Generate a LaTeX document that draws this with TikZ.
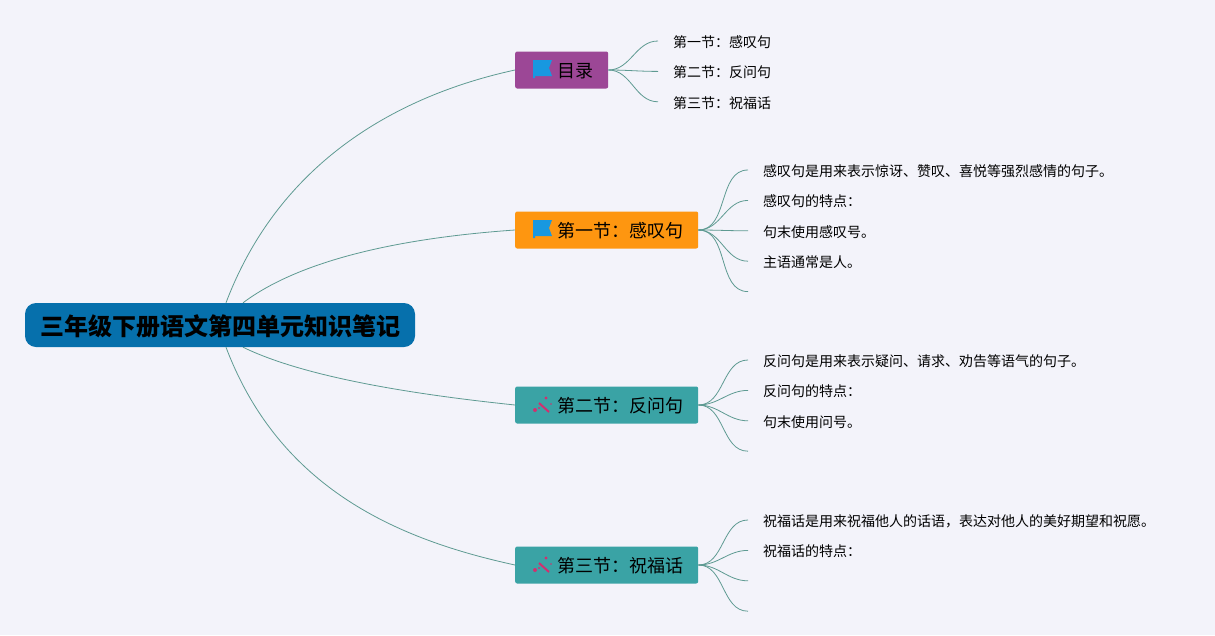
\documentclass[tikz,border=0pt]{standalone}
\usepackage{fontspec}
\usepackage{xcolor}
\usetikzlibrary{positioning}
\setmainfont{Noto Sans CJK SC}
\definecolor{bgcolor}{RGB}{243,243,250}
\definecolor{rootcolor}{RGB}{6,112,172}
\definecolor{toccolor}{RGB}{156,71,150}
\definecolor{orangecolor}{RGB}{254,150,16}
\definecolor{tealcolor}{RGB}{58,163,165}
\definecolor{linecolor}{RGB}{94,154,146}
\definecolor{flagcolor}{RGB}{24,152,224}
\definecolor{wandcolor}{RGB}{208,48,112}

\begin{document}
\begin{tikzpicture}[x=1pt,y=-1pt,node distance=0pt,
root/.style={fill=rootcolor,rounded corners=11pt,minimum height=44pt,inner xsep=15pt,inner ysep=0pt,text height=21pt,text depth=0pt,font=\fontsize{24}{28}\selectfont\bfseries},
branch/.style={rounded corners=2pt,minimum height=37pt,inner xsep=15pt,inner ysep=0pt,anchor=west,text height=15.6pt,text depth=0pt,font=\fontsize{18}{22}\selectfont},
leaf/.style={minimum height=30pt,minimum width=30pt,inner xsep=15pt,inner ysep=0pt,text height=12.6pt,text depth=0pt,font=\fontsize{14}{16}\selectfont},
main/.style={draw=linecolor,line width=0.8pt},
twig/.style={draw=linecolor,line width=0.8pt,out=0,in=180},
flag/.pic={\fill[flagcolor] (0,0)--(19,0)--(16,8)--(19,16)--(2,16)--(2,18)--(0,18)--cycle;},
wand/.pic={\draw[wandcolor,line width=2pt] (6,10)--(16,19);
\fill[wandcolor] (2,17) circle (2pt);
\fill[wandcolor] (13,5) circle (1.7pt);
\fill[wandcolor] (18,11) circle (0.8pt);
\fill[wandcolor] (6,15) circle (1.2pt);}]
\fill[bgcolor] (0,0) rectangle (1215,635);
% centre
\node[root] (r) at (220,325) {三年级下册语文第四单元知识笔记};
% branches
\node[branch,fill=toccolor] (toc) at (515,70) {\hspace*{27pt}目录};
\node[branch,fill=orangecolor] (s1) at (515,230) {\hspace*{27pt}第一节：感叹句};
\node[branch,fill=tealcolor] (s2) at (515,405) {\hspace*{27pt}第二节：反问句};
\node[branch,fill=tealcolor] (s3) at (515,565) {\hspace*{27pt}第三节：祝福话};
\pic at (533,60) {flag};
\pic at (533,220) {flag};
\pic at (533,393) {wand};
\pic at (533,553) {wand};
\draw[main] ([xshift=6pt]r.north) .. controls (280,160) and (400,95) .. (toc.west);
\draw[main] ([xshift=23pt]r.north) .. controls (300,260) and (400,238) .. (s1.west);
\draw[main] ([xshift=23pt]r.south) .. controls (300,375) and (400,393) .. (s2.west);
\draw[main] ([xshift=6pt]r.south) .. controls (280,490) and (400,540) .. (s3.west);
% leaves
\node[leaf,anchor=west] (t1) at (658,41) {第一节：感叹句};
\node[leaf,below right=0pt of t1.south west] (t2) {第二节：反问句};
\node[leaf,below right=0pt of t2.south west] (t3) {第三节：祝福话};
\node[leaf,anchor=west] (a1) at (748,170) {感叹句是用来表示惊讶、赞叹、喜悦等强烈感情的句子。};
\node[leaf,below right=0pt of a1.south west] (a2) {感叹句的特点：};
\node[leaf,below right=0pt of a2.south west] (a3) {句末使用感叹号。};
\node[leaf,below right=0pt of a3.south west] (a4) {主语通常是人。};
\node[leaf,below right=0pt of a4.south west] (a5) {};
\node[leaf,anchor=west] (b1) at (748,360) {反问句是用来表示疑问、请求、劝告等语气的句子。};
\node[leaf,below right=0pt of b1.south west] (b2) {反问句的特点：};
\node[leaf,below right=0pt of b2.south west] (b3) {句末使用问号。};
\node[leaf,below right=0pt of b3.south west] (b4) {};
\node[leaf,anchor=west] (c1) at (748,520) {祝福话是用来祝福他人的话语，表达对他人的美好期望和祝愿。};
\node[leaf,below right=0pt of c1.south west] (c2) {祝福话的特点：};
\node[leaf,below right=0pt of c2.south west] (c3) {};
\node[leaf,below right=0pt of c3.south west] (c4) {};
% twigs
\draw[twig] (toc.east) to (t1.west); \draw[twig] (toc.east) to (t2.west); \draw[twig] (toc.east) to (t3.west);
\draw[twig] (s1.east) to (a1.west); \draw[twig] (s1.east) to (a2.west); \draw[twig] (s1.east) to (a3.west);
\draw[twig] (s1.east) to (a4.west); \draw[twig] (s1.east) to (a5.west);
\draw[twig] (s2.east) to (b1.west); \draw[twig] (s2.east) to (b2.west); \draw[twig] (s2.east) to (b3.west); \draw[twig] (s2.east) to (b4.west);
\draw[twig] (s3.east) to (c1.west); \draw[twig] (s3.east) to (c2.west); \draw[twig] (s3.east) to (c3.west); \draw[twig] (s3.east) to (c4.west);
\end{tikzpicture}
\end{document}
